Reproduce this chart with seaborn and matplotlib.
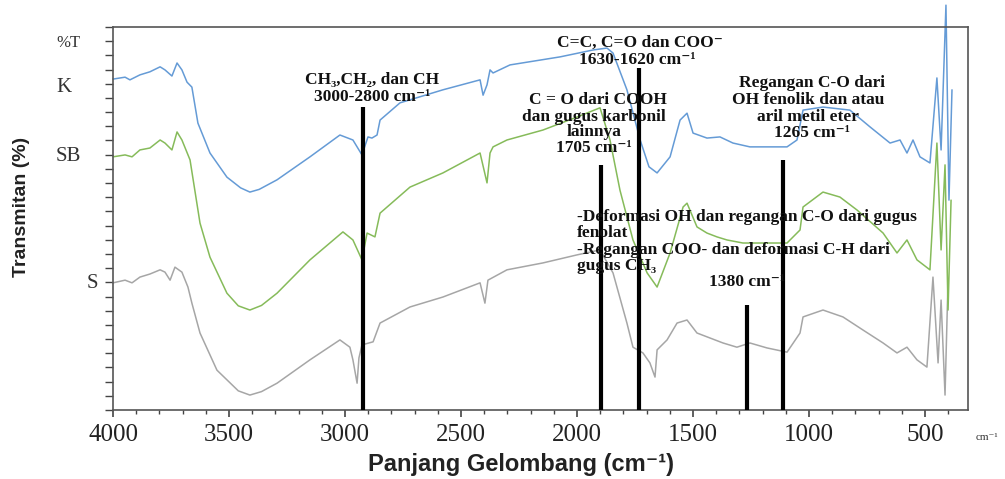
import matplotlib
matplotlib.use('Agg')
import matplotlib.pyplot as plt
import seaborn as sns
from matplotlib.ticker import MultipleLocator, NullFormatter

# FTIR spectra (wavenumber cm-1, stacked transmittance, arbitrary offset units)
K_wn = [4000, 3948, 3927, 3884, 3841, 3797, 3776, 3746, 3724, 3703, 3681, 3660, 3634, 3582, 3509,
        3450, 3410, 3370, 3293, 3151, 3022, 2966, 2927, 2901, 2884, 2862, 2849, 2763, 2578, 2418,
        2405, 2388, 2375, 2362, 2289, 2073, 1931, 1871, 1845, 1785, 1728, 1690, 1655, 1599, 1556,
        1526, 1500, 1440, 1384, 1328, 1255, 1155, 1095, 1052, 1026, 940, 824, 737, 651, 608,
        578, 552, 522, 479, 449, 431, 410, 397, 384]
K_t = [86.4, 86.9, 86.2, 87.5, 88.3, 89.6, 88.8, 87.2, 90.6, 88.8, 85.6, 84.3, 74.9, 67.1, 60.8,
       58.0, 56.9, 57.6, 60.1, 66.1, 71.8, 70.5, 66.6, 71.3, 71.0, 71.8, 75.7, 80.2, 83.6, 86.2,
       82.2, 84.9, 88.8, 88.0, 90.1, 92.2, 94.0, 94.5, 93.2, 83.6, 70.5, 63.5, 61.9, 66.1, 75.7,
       77.5, 72.3, 71.0, 71.3, 69.7, 68.7, 68.7, 68.7, 70.5, 78.3, 79.1, 78.3, 73.9, 69.7, 70.5,
       67.1, 70.5, 66.1, 64.5, 86.7, 67.9, 105.7, 54.8, 83.6]

SB_wn = [4000, 3948, 3918, 3884, 3841, 3797, 3776, 3746, 3724, 3703, 3668, 3625, 3582, 3509, 3460,
         3410, 3360, 3293, 3151, 3009, 2966, 2927, 2905, 2871, 2849, 2720, 2578, 2418, 2388, 2375,
         2362, 2302, 2147, 2000, 1901, 1858, 1815, 1759, 1698, 1655, 1599, 1543, 1526, 1483, 1440,
         1397, 1354, 1285, 1181, 1095, 1039, 1026, 940, 867, 793, 681, 621, 578, 535, 479,
         449, 431, 414, 401, 388]
SB_t = [66.1, 66.6, 66.1, 67.9, 68.4, 70.5, 69.7, 67.9, 72.6, 70.5, 65.3, 48.8, 39.9, 30.5, 27.2,
        26.1, 27.3, 30.5, 39.2, 46.5, 44.4, 39.2, 46.2, 45.2, 51.4, 58.2, 61.9, 67.1, 59.3, 67.1,
        68.7, 70.5, 73.1, 76.5, 78.9, 70.5, 57.4, 44.4, 35.8, 32.1, 41.0, 53.0, 54.0, 47.8, 46.2,
        45.2, 44.4, 43.6, 43.6, 43.6, 47.0, 53.0, 56.9, 55.6, 52.2, 46.2, 41.0, 44.4, 39.2, 36.6,
        69.7, 41.8, 64.0, 26.1, 54.8]

S_wn = [4000, 3948, 3918, 3884, 3841, 3797, 3776, 3754, 3733, 3703, 3677, 3660, 3625, 3552, 3460,
        3410, 3360, 3293, 3151, 3022, 2979, 2966, 2948, 2940, 2927, 2879, 2849, 2720, 2578, 2418,
        2397, 2384, 2302, 2147, 2000, 1901, 1845, 1785, 1759, 1716, 1686, 1664, 1655, 1612, 1569,
        1526, 1483, 1427, 1371, 1311, 1255, 1181, 1095, 1039, 1026, 940, 854, 768, 681, 621,
        578, 535, 492, 466, 444, 431, 414, 401]
S_t = [33.2, 33.9, 33.2, 34.7, 35.5, 36.6, 36.0, 33.9, 37.3, 36.0, 32.1, 27.9, 20.1, 10.4, 5.0,
       3.9, 4.8, 7.0, 13.1, 18.3, 16.4, 13.1, 7.0, 13.6, 17.0, 17.8, 22.7, 26.9, 29.5, 33.2,
       27.9, 33.9, 36.6, 38.4, 40.5, 41.8, 35.8, 22.7, 16.4, 14.9, 12.3, 8.6, 15.7, 18.3, 22.7,
       23.5, 20.1, 18.8, 17.5, 16.4, 17.5, 16.2, 15.1, 20.1, 24.3, 26.1, 24.3, 20.9, 17.5, 14.9,
       16.4, 13.1, 11.2, 34.7, 12.3, 28.7, 3.9, 33.9]

# band marker bars
mark_wn = [2922, 1897, 1735, 1267, 1112]
mark_top = [79.1, 64.0, 89.3, 27.4, 65.3]

xticks = [4000, 3500, 3000, 2500, 2000, 1500, 1000, 500]

sns.set_style('ticks')
serif = ['Liberation Serif', 'DejaVu Serif']
sans = ['Liberation Sans', 'DejaVu Sans']

fig = plt.figure(figsize=(10.05, 4.79), dpi=100)
ax = fig.add_axes([113 / 1005, 69 / 479, 855 / 1005, 383 / 479])

sns.lineplot(x=S_wn, y=S_t, ax=ax, color='#a6a6a6', lw=1.1, sort=False, estimator=None)
sns.lineplot(x=SB_wn, y=SB_t, ax=ax, color='#86bb5a', lw=1.1, sort=False, estimator=None)
sns.lineplot(x=K_wn, y=K_t, ax=ax, color='#659bd6', lw=1.1, sort=False, estimator=None)
for ln in ax.lines:
    ln.set_clip_on(False)

ax.vlines(mark_wn, 0, mark_top, color='black', lw=3, zorder=5)

ax.set_xlim(4000, 315)
ax.set_ylim(0, 100)
ax.set_xticks(xticks)
ax.set_xticklabels([str(t) for t in xticks], family=serif, fontsize=18, color='#222222')
ax.xaxis.set_minor_locator(MultipleLocator(100))
ax.yaxis.set_major_locator(MultipleLocator(100 / 27))
ax.yaxis.set_major_formatter(NullFormatter())
ax.tick_params(axis='x', which='major', direction='out', length=5, width=1.2, color='#444444', pad=5)
ax.tick_params(axis='x', which='minor', direction='out', length=3, width=1, color='#444444')
ax.tick_params(axis='y', which='major', direction='out', length=6, width=1, color='#444444')
for sp in ax.spines.values():
    sp.set_color('#555555')
    sp.set_linewidth(1.2)

ax.set_xlabel('')
ax.set_ylabel('')

def ftext(x, y, s, **kw):
    fig.text(x / 1005, 1 - y / 479, s, va='center', **kw)

# axis titles
ftext(521, 465, 'Panjang Gelombang (cm⁻¹)', ha='center', family=sans,
      fontweight='bold', fontsize=17, color='#222222')
fig.text(22 / 1005, 1 - 207 / 479, 'Transmitan (%)', rotation=90, ha='center', va='center',
         family=sans, fontweight='bold', fontsize=14, color='#222222')
ftext(987, 437, 'cm⁻¹', ha='center', family=serif, fontsize=8, color='#333333')

# spectrum labels on the y axis
ftext(68, 43, '%T', ha='center', family=serif, fontsize=12, color='#333333')
ftext(64, 88, 'K', ha='center', family=serif, fontsize=15, color='#333333')
ftext(68, 156, 'SB', ha='center', family=serif, fontsize=15, color='#333333')
ftext(92, 283, 'S', ha='center', family=serif, fontsize=15, color='#333333')

# band annotations
bold = dict(family=serif, fontweight='bold', fontsize=12.5, color='#111111')
ftext(372, 80, 'CH₃,CH₂, dan CH', ha='center', **bold)
ftext(372, 97, '3000-2800 cm⁻¹', ha='center', **bold)
ftext(640, 43, 'C=C, C=O dan COO⁻', ha='center', **bold)
ftext(637, 60, '1630-1620 cm⁻¹', ha='center', **bold)
ftext(598, 100, 'C = O dari COOH', ha='center', **bold)
ftext(594, 117, 'dan gugus karbonil', ha='center', **bold)
ftext(594, 132, 'lainnya', ha='center', **bold)
ftext(594, 148, '1705 cm⁻¹', ha='center', **bold)
ftext(812, 83, 'Regangan C-O dari', ha='center', **bold)
ftext(808, 100, 'OH fenolik dan atau', ha='center', **bold)
ftext(808, 117, 'aril metil eter', ha='center', **bold)
ftext(812, 133, '1265 cm⁻¹', ha='center', **bold)
ftext(577, 217, '-Deformasi OH dan regangan C-O dari gugus', ha='left', **bold)
ftext(577, 233, 'fenolat', ha='left', **bold)
ftext(577, 250, '-Regangan COO- dan deformasi C-H dari', ha='left', **bold)
ftext(577, 266, 'gugus CH₃', ha='left', **bold)
ftext(747, 282, '1380 cm⁻¹', ha='center', **bold)

fig.savefig('out.png', dpi=100)
